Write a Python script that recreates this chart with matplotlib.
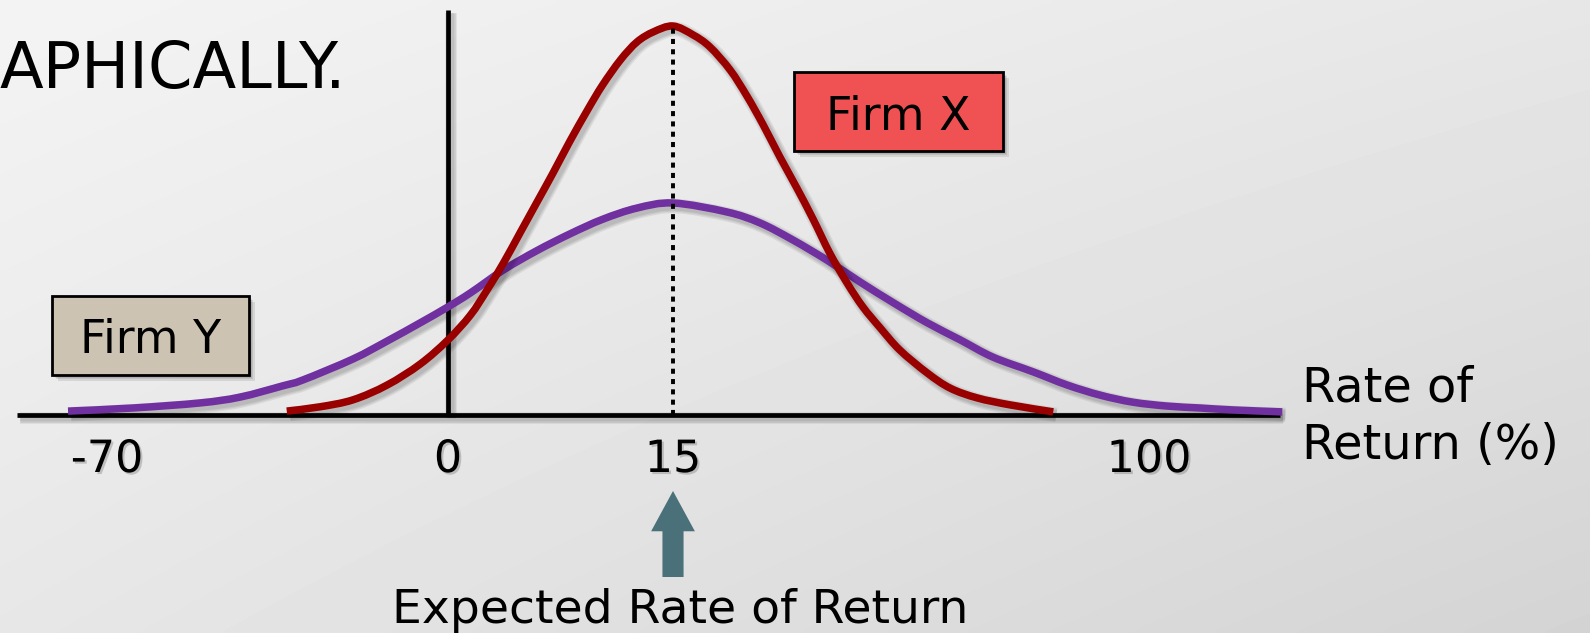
import numpy as np
import matplotlib
matplotlib.use("Agg")
import matplotlib.pyplot as plt
import matplotlib.patheffects as pe
from matplotlib.patches import Rectangle, FancyArrowPatch, ArrowStyle, PathPatch
from matplotlib.path import Path

# ---- data -----------------------------------------------------------------
tick_values = [-70, 0, 15, 100]
tick_labels = ["-70", "0", "15", "100"]
expected_return = 15

# Firm X: narrow distribution (rate of return %, relative probability)
firm_x_return = [-33.1, -26.3, -19.5, -12.5, -5.7, 0.0, 1.5, 2.6, 3.7, 4.8,
                 5.9, 7.0, 8.1, 9.3, 10.3, 11.5, 12.6, 13.7, 15.0, 18.6,
                 21.6, 25.2, 28.2, 31.1, 34.1, 37.1, 40.0, 43.0, 46.1, 48.9,
                 52.0, 55.5, 60.4, 64.5, 69.3, 75.2, 82.9]
firm_x_prob = [0.010, 0.021, 0.039, 0.077, 0.131, 0.193, 0.257, 0.321, 0.391, 0.468,
               0.545, 0.622, 0.702, 0.784, 0.848, 0.913, 0.959, 0.985, 1.000, 0.977,
               0.946, 0.887, 0.820, 0.746, 0.663, 0.584, 0.504, 0.416, 0.339, 0.278,
               0.224, 0.167, 0.108, 0.069, 0.044, 0.026, 0.008]

# Firm Y: wide distribution
firm_y_return = [-78.0, -64.7, -50.9, -42.7, -33.9, -29.8, -19.5, -12.5, -5.7, 0.0,
                 1.5, 3.7, 5.9, 8.1, 10.3, 12.6, 15.0, 24.6, 30.5,
                 36.4, 42.5, 48.4, 54.3, 60.4, 66.3, 72.1, 79.3, 85.4, 91.3,
                 97.1, 103.2, 109.1, 115.0, 123.8]
firm_y_prob = [0.010, 0.018, 0.031, 0.046, 0.075, 0.090, 0.144, 0.190, 0.237, 0.278,
               0.314, 0.373, 0.422, 0.465, 0.503, 0.532, 0.545, 0.522, 0.494,
               0.450, 0.398, 0.342, 0.289, 0.237, 0.193, 0.149, 0.111, 0.077, 0.051,
               0.033, 0.023, 0.018, 0.013, 0.008]

# ---- schematic (not-to-scale) return axis ---------------------------------
W, H = 1590, 633
anchor_px = np.array([107.0, 448.0, 673.0, 1149.0])   # where the ticks sit
anchor_val = np.array(tick_values, dtype=float)


def _pw(x, xp, fp):
    x = np.asarray(x, dtype=float)
    y = np.interp(x, xp, fp)
    lo_slope = (fp[1] - fp[0]) / (xp[1] - xp[0])
    hi_slope = (fp[-1] - fp[-2]) / (xp[-1] - xp[-2])
    y = np.where(x < xp[0], fp[0] + (x - xp[0]) * lo_slope, y)
    y = np.where(x > xp[-1], fp[-1] + (x - xp[-1]) * hi_slope, y)
    return y


def fwd(x):
    return _pw(x, anchor_val, anchor_px)


def inv(p):
    return _pw(p, anchor_px, anchor_val)


base_px, peak_px = 415.0, 26.0
unit = base_px - peak_px


def ypx(py):
    return (base_px - py) / unit


def fx(px):
    return px / W


def fy(py):
    return 1 - py / H


fig = plt.figure(figsize=(W / 100, H / 100), dpi=100)

# light grey slide background
bg = fig.add_axes([0, 0, 1, 1], zorder=-10)
u = np.linspace(0, 1, 400)[None, :]
v = np.linspace(0, 1, 160)[:, None]
shade = 0.955 - 0.05 * u - 0.05 * v - 0.025 * u * v
bg.imshow(shade, cmap="gray", vmin=0, vmax=1, aspect="auto",
          extent=[0, 1, 0, 1], origin="upper", interpolation="bicubic")
bg.set_axis_off()

ax = fig.add_axes([0, 0, 1, 1])
ax.set_facecolor("none")
ax.set_xscale("function", functions=(fwd, inv))
ax.set_xlim(float(inv(0.0)), float(inv(float(W))))
ax.set_ylim(ypx(H), ypx(0))
ax.set_axis_off()


def soft_line_shadow(lw):
    effects = [pe.SimpleLineShadow(offset=(2.2, -2.2), shadow_color="black",
                                   alpha=0.07, linewidth=lw + k)
               for k in (5.0, 3.0, 1.2)]
    return effects + [pe.Normal()]


def smooth_curve(xs, ys, **kw):
    """Stroke a Catmull-Rom (cubic Bezier) curve through the points."""
    disp = ax.transData.transform(np.column_stack([xs, ys]))
    p = np.vstack([disp[0], disp, disp[-1]])
    verts = [disp[0]]
    codes = [Path.MOVETO]
    for i in range(1, len(p) - 2):
        c1 = p[i] + (p[i + 1] - p[i - 1]) / 6.0
        c2 = p[i + 1] - (p[i + 2] - p[i]) / 6.0
        verts += [c1, c2, p[i + 1]]
        codes += [Path.CURVE4] * 3
    data_verts = ax.transData.inverted().transform(np.array(verts))
    patch = PathPatch(Path(data_verts, codes), fill=False, transform=ax.transData,
                      **kw)
    ax.add_patch(patch)
    return patch


axis_lw = 3.4
curve_lw = 5.4

# axes lines
x_left, x_right = float(inv(17.0)), float(inv(1280.0))
ax.plot([x_left, x_right], [0, 0], color="black", lw=axis_lw,
        solid_capstyle="butt", zorder=2, path_effects=soft_line_shadow(axis_lw))
ax.plot([0, 0], [0, ypx(10)], color="black", lw=axis_lw,
        solid_capstyle="butt", zorder=2, path_effects=soft_line_shadow(axis_lw))

# distributions
smooth_curve(firm_y_return, firm_y_prob, edgecolor="#7030A0", lw=curve_lw,
             capstyle="butt", joinstyle="round", zorder=3,
             path_effects=soft_line_shadow(curve_lw))
smooth_curve(firm_x_return, firm_x_prob, edgecolor="#990000", lw=curve_lw,
             capstyle="butt", joinstyle="round", zorder=4,
             path_effects=soft_line_shadow(curve_lw))

# dotted line at the expected return
ax.plot([expected_return, expected_return], [0, max(firm_x_prob)],
        color="black", lw=2.8, linestyle=(0, (1.3, 1.35)),
        dash_capstyle="butt", zorder=5)

# tick labels
tick_shadow = [pe.SimplePatchShadow(offset=(1.5, -1.5), shadow_rgbFace="black",
                                    alpha=0.18), pe.Normal()]
for val, lab in zip(tick_values, tick_labels):
    ax.text(val, ypx(472), lab, ha="center", va="baseline", fontsize=32,
            family="DejaVu Sans", color="black", path_effects=tick_shadow,
            zorder=6)

# arrow pointing to the expected return
arrow = FancyArrowPatch(
    posA=(expected_return, ypx(577)), posB=(expected_return, ypx(491)),
    arrowstyle=ArrowStyle.Simple(head_length=29.0, head_width=31.5,
                                 tail_width=15.2),
    mutation_scale=1, shrinkA=0, shrinkB=0, color="#4A7079", lw=0, zorder=6)
ax.add_patch(arrow)

fig.text(fx(680.5), fy(623), "Expected Rate of Return", ha="center",
         va="baseline", fontsize=34, family="DejaVu Sans", color="black")

fig.text(fx(1302), fy(402), "Rate of", ha="left", va="baseline",
         fontsize=34.5, family="DejaVu Sans", color="black")
fig.text(fx(1302), fy(459), "Return (%)", ha="left", va="baseline",
         fontsize=34.5, family="DejaVu Sans", color="black")

# slide title fragment
fig.text(fx(0), fy(88), "APHICALLY.", ha="left", va="baseline",
         fontsize=46, family="DejaVu Sans", color="black")

# series labels in boxes
box_shadow = [pe.SimplePatchShadow(offset=(o, -o), shadow_rgbFace="black",
                                   alpha=0.09) for o in (4.5, 3.2, 2.0)]
box_shadow.append(pe.Normal())


def label_box(x0, y0, x1, y1, face, text, baseline):
    rect = Rectangle((fx(x0), fy(y1)), fx(x1) - fx(x0), fy(y0) - fy(y1),
                     transform=fig.transFigure, facecolor=face,
                     edgecolor="black", lw=2.0, zorder=7,
                     path_effects=box_shadow)
    fig.add_artist(rect)
    fig.text(fx((x0 + x1) / 2), fy(baseline), text, ha="center",
             va="baseline", fontsize=33, family="DejaVu Sans",
             color="black", zorder=8)


label_box(794, 72, 1003, 151, "#F05254", "Firm X", 130)
label_box(52, 296, 249, 375, "#CCC3B3", "Firm Y", 353)

fig.savefig("out.png", dpi=100)
